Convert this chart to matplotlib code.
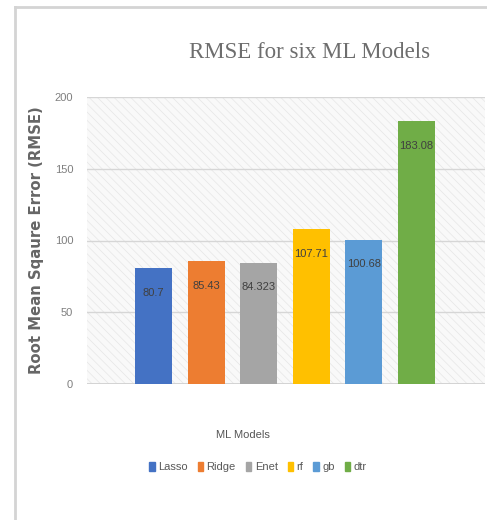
import matplotlib
matplotlib.use("Agg")
import matplotlib.pyplot as plt
from matplotlib.patches import Rectangle
from matplotlib.lines import Line2D

models = ["Lasso", "Ridge", "Enet", "rf", "gb", "dtr"]
rmse = [80.7, 85.43, 84.323, 107.71, 100.68, 183.08]
value_labels = ["80.7", "85.43", "84.323", "107.71", "100.68", "183.08"]
colors = ["#4472C4", "#ED7D31", "#A5A5A5", "#FFC000", "#5B9BD5", "#70AD47"]
yticks = [0, 50, 100, 150, 200]

narrow = ["Liberation Sans", "DejaVu Sans"]
plt.rcParams["hatch.linewidth"] = 0.5

fig = plt.figure(figsize=(4.87, 5.2), dpi=100)
fig.patch.set_facecolor("white")

# chart frame lines (top and left)
fig.add_artist(Line2D([15/487, 1.0], [1 - 7/520, 1 - 7/520], color="#d4d4d4", lw=2))
fig.add_artist(Line2D([15/487, 15/487], [0, 1 - 7/520], color="#d4d4d4", lw=2))

ax = fig.add_axes([87/487, 1 - 384/520, 398/487, 287/520])
ax.set_facecolor("#f9f9f9")
ax.add_patch(Rectangle((0, 0), 1, 1, transform=ax.transAxes, facecolor="none",
                       edgecolor="#e6e6e6", hatch="\\\\\\\\", lw=0, zorder=0))

x = list(range(len(models)))
bars = ax.bar(x, rmse, width=0.70, color=colors, zorder=3)
for xi, v, lab in zip(x, rmse, value_labels):
    ax.text(xi, v - 17, lab, ha="center", va="center", fontsize=8,
            family=narrow, color="#404040", zorder=4)

ax.set_xlim(-1.264, 6.302)
ax.set_ylim(0, 200)
ax.set_yticks(yticks)
ax.set_yticklabels([str(t) for t in yticks], family=narrow, fontsize=8, color="#7f7f7f")
ax.set_xticks([])
ax.tick_params(axis="y", length=0, pad=10)
for s in ax.spines.values():
    s.set_visible(False)
ax.grid(axis="y", color="#d6d6d6", lw=1, zorder=1)
ax.axhline(0, color="#cfcfcf", lw=1.2, zorder=2)

fig.text(310/487, 1 - 52/520, "RMSE for six ML Models", ha="center", va="center",
         family=["Liberation Serif", "DejaVu Serif"], fontsize=16.5, color="#6e6e6e")
fig.text(37/487, 1 - 240/520, "Root Mean Sqaure Error (RMSE)", rotation=90,
         ha="center", va="center", fontsize=10.7, fontweight="bold", color="#666666")
fig.text(243/487, 1 - 435/520, "ML Models", ha="center", va="center",
         family=narrow, fontsize=8, color="#555555")

handles = [Rectangle((0, 0), 1, 1, color=c) for c in colors]
fig.legend(handles, models, loc="center", bbox_to_anchor=(258/487, 1 - 467/520),
           ncol=6, frameon=False, prop={"family": narrow, "size": 8},
           handlelength=0.5, handleheight=0.9, handletextpad=0.3, columnspacing=0.9,
           labelcolor="#595959")

fig.savefig("out.png", dpi=100)
